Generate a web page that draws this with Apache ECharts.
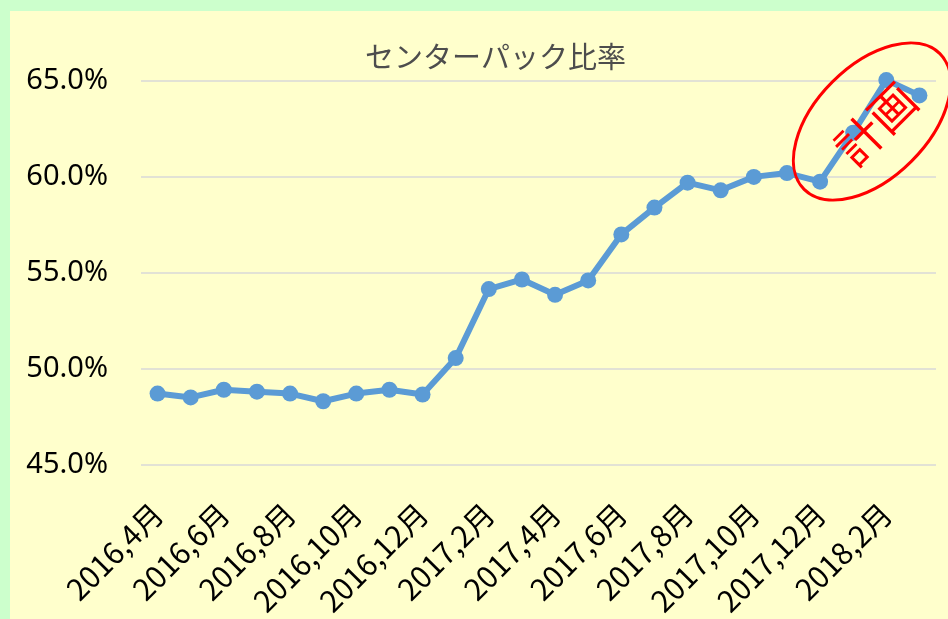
<!DOCTYPE html>
<html>
<head>
<meta charset="utf-8">
<script src="https://cdn.jsdelivr.net/npm/echarts@6/dist/echarts.min.js"></script>
<style>
  html, body { margin: 0; padding: 0; background: #CCFFCC; width: 948px; height: 619px; overflow: hidden; }
  #chart { position: absolute; left: 10px; top: 11px; width: 938px; height: 608px; }
</style>
</head>
<body>
<div id="chart"></div>
<script>
const categories = [
  '2016,4月','2016,5月','2016,6月','2016,7月','2016,8月','2016,9月','2016,10月','2016,11月','2016,12月',
  '2017,1月','2017,2月','2017,3月','2017,4月','2017,5月','2017,6月','2017,7月','2017,8月','2017,9月',
  '2017,10月','2017,11月','2017,12月','2018,1月','2018,2月','2018,3月'
];
const ratioValues = [
  48.7, 48.5, 48.9, 48.8, 48.7, 48.3, 48.7, 48.9, 48.65,
  50.55, 54.15, 54.65, 53.85, 54.6, 57.0, 58.4, 59.7, 59.3,
  60.0, 60.2, 59.75, 62.3, 65.05, 64.25
];
const yMin = 45, yMax = 65, yStep = 5;
const titleText = 'センターパック比率';
const noteText = '計画';

const chart = echarts.init(document.getElementById('chart'), null, { renderer: 'canvas' });
const jpFont = '"Noto Sans CJK JP", "Noto Sans", sans-serif';
chart.setOption({
  backgroundColor: '#FFFFCC',
  animation: false,
  title: {
    text: titleText,
    left: 350,
    top: 26,
    textStyle: { fontFamily: jpFont, fontSize: 29, fontWeight: 'normal', color: '#4D4D4D' }
  },
  grid: { left: 131, top: 70, width: 795, height: 384 },
  xAxis: {
    type: 'category',
    data: categories,
    boundaryGap: true,
    axisLine: { show: false },
    axisTick: { show: false },
    axisLabel: {
      interval: 1,
      rotate: 45,
      margin: 44,
      fontFamily: jpFont,
      fontSize: 30,
      color: '#000000'
    }
  },
  yAxis: {
    type: 'value',
    min: yMin,
    max: yMax,
    interval: yStep,
    axisLine: { show: false },
    axisTick: { show: false },
    splitLine: { lineStyle: { color: '#D9D9D9', width: 1.5 } },
    axisLabel: {
      margin: 33,
      fontFamily: '"Noto Sans", sans-serif',
      fontSize: 29,
      color: '#000000',
      formatter: v => v.toFixed(1) + '%'
    }
  },
  series: [{
    type: 'line',
    data: ratioValues,
    clip: false,
    symbol: 'circle',
    symbolSize: 16,
    lineStyle: { color: '#5B9BD5', width: 6 },
    itemStyle: { color: '#5B9BD5' }
  }],
  graphic: [
    {
      type: 'ellipse',
      x: 862, y: 110.5,
      rotation: Math.PI / 4,
      shape: { cx: 0, cy: 0, rx: 96, ry: 56 },
      style: { fill: 'none', stroke: '#FF0000', lineWidth: 3 },
      z: 100
    },
    {
      type: 'text',
      x: 866, y: 113,
      rotation: Math.PI / 4,
      style: {
        text: noteText,
        fill: '#FF0000',
        font: '46px "Noto Sans CJK JP"',
        textAlign: 'center',
        textVerticalAlign: 'middle'
      },
      z: 100
    }
  ]
});
</script>
</body>
</html>
